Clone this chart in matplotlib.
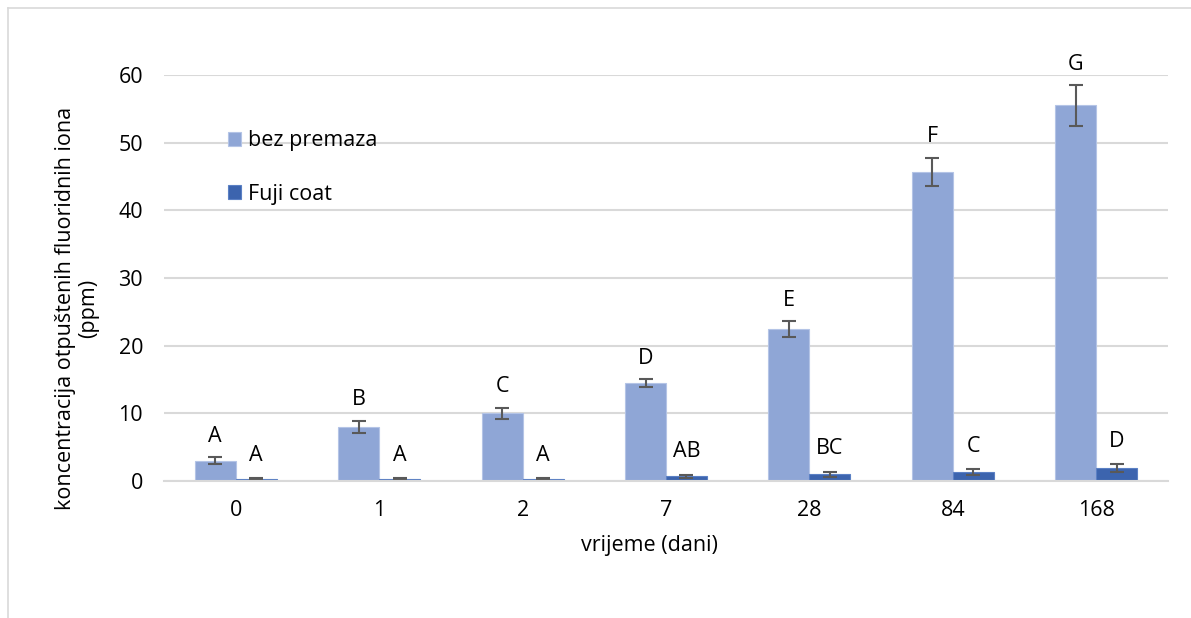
import numpy as np
import matplotlib.pyplot as plt
from matplotlib.lines import Line2D

plt.rcParams['font.family'] = ['Open Sans', 'DejaVu Sans']

days = ['0', '1', '2', '7', '28', '84', '168']
bez_premaza = [3.0, 8.0, 10.0, 14.5, 22.5, 45.7, 55.5]
bez_err = [0.5, 0.9, 0.85, 0.55, 1.15, 2.1, 3.0]
fuji_coat = [0.3, 0.3, 0.3, 0.7, 1.0, 1.3, 1.9]
fuji_err = [0.1, 0.1, 0.1, 0.2, 0.35, 0.45, 0.6]
bez_letters = ['A', 'B', 'C', 'D', 'E', 'F', 'G']
fuji_letters = ['A', 'A', 'A', 'AB', 'BC', 'C', 'D']

c_light = '#8FA6D6'
c_dark = '#3C64AE'
grid_c = '#D9D9D9'
fs = 15.5

fig = plt.figure(figsize=(11.91, 6.18), dpi=100)
ax = fig.add_axes([164/1191, 1-481/618, (1168-164)/1191, (481-75)/618])

x = np.arange(len(days))
w = 1 / 3.5
ekw = dict(ecolor='#595959', elinewidth=1.5, capsize=5, capthick=1.5)
ax.bar(x - w/2, bez_premaza, w, yerr=bez_err, color=c_light, edgecolor='#B4C4E6',
       linewidth=0.8, error_kw=ekw, label='bez premaza', zorder=2)
ax.bar(x + w/2, fuji_coat, w, yerr=fuji_err, color=c_dark, edgecolor='#5B80C4',
       linewidth=0.8, error_kw=ekw, label='Fuji coat', zorder=2)

for i in range(len(days)):
    ax.annotate(bez_letters[i], (x[i] - w/2, bez_premaza[i] + bez_err[i]),
                xytext=(0, 15), textcoords='offset points', ha='center', va='center',
                fontsize=fs)
    ax.annotate(fuji_letters[i], (x[i] + w/2, fuji_coat[i] + fuji_err[i]),
                xytext=(0, 16.5), textcoords='offset points', ha='center', va='center',
                fontsize=fs)

ax.set_xlim(-0.5, len(days) - 0.5)
ax.set_ylim(0, 60)
ax.set_yticks(np.arange(0, 61, 10))
ax.set_xticks(x)
ax.set_xticklabels(days)
ax.yaxis.grid(True, color=grid_c, linewidth=1.5, zorder=0)
ax.set_axisbelow(True)
for s in ['top', 'right', 'left']:
    ax.spines[s].set_visible(False)
ax.spines['bottom'].set_color(grid_c)
ax.spines['bottom'].set_linewidth(1.5)
ax.tick_params(length=0, labelsize=fs)
ax.tick_params(axis='y', pad=15)
ax.tick_params(axis='x', pad=14)

# axis titles placed like in the original (not centred on the plot area)
fig.text(649/1191, 1-545/618, 'vrijeme (dani)', fontsize=fs, ha='center', va='center')
fig.text(77/1191, 1-308/618, 'koncentracija otpuštenih fluoridnih iona\n(ppm)',
         fontsize=fs, rotation=90, ha='center', va='center', multialignment='center',
         linespacing=1.15)

ax.legend(loc='upper left', bbox_to_anchor=(0.055, 0.885), frameon=False, fontsize=fs,
          handlelength=0.62, handleheight=0.62, handletextpad=0.3, labelspacing=1.5,
          borderaxespad=0)

# light frame like the original chart area
fig.add_artist(Line2D([8/1191, 8/1191], [0, 1-8/618], color=grid_c, linewidth=1.2))
fig.add_artist(Line2D([8/1191, 1], [1-8/618, 1-8/618], color=grid_c, linewidth=1.2))

fig.savefig('out.png', dpi=100)
